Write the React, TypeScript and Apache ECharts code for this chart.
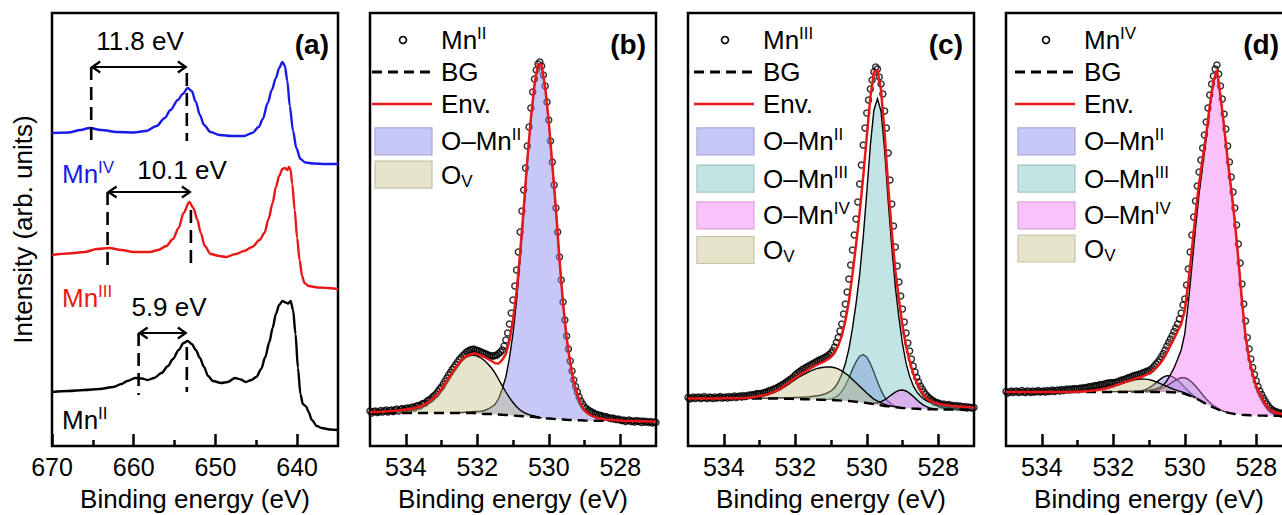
import React, { useEffect, useRef } from "react";
import * as echarts from "echarts";

const FONT = "'Liberation Sans', Arial, Helvetica, sans-serif";

// ---------------- Panel (a): Mn 2p spectra  [binding energy (eV), intensity (a.u.)] ----------------
const mnIVSpectrum = [
  [670, 313], [668, 313.5], [666.5, 316], [665.4, 318], [664, 316], [662, 314], [660, 313.5], [658.5, 315],
  [657.2, 320], [656.2, 328], [655.5, 336], [654.6, 346], [654, 352], [653.4, 358], [652.9, 355], [652.4, 344],
  [651.9, 331], [651.4, 321], [650.6, 314], [649.5, 311], [648, 310], [646.5, 310], [645.5, 313], [644.7, 319],
  [644.2, 327], [643.6, 343], [643.1, 356], [642.6, 368], [642.2, 378], [641.8, 384], [641.5, 380], [641.2, 365],
  [640.9, 340], [640.5, 315], [640.1, 298], [639.6, 287], [639, 283.5], [638, 282.5], [636.5, 282], [635, 282],
];
const mnIIISpectrum = [
  [670, 191], [668, 192.5], [666, 194], [664.5, 197], [663, 198], [661.5, 196], [660, 194], [658, 194], [657, 196],
  [656, 200], [655.2, 207], [654.5, 218], [653.9, 233], [653.2, 244], [652.7, 238], [652.2, 226], [651.8, 213],
  [651.3, 200], [650.6, 192], [649.5, 190], [648.7, 189], [647.5, 192], [646.5, 195], [645.5, 199], [644.6, 206],
  [644, 213], [643.5, 227], [643, 243], [642.6, 259], [642.2, 270], [641.8, 277], [641.5, 278], [641.2, 276],
  [641, 279], [640.8, 276], [640.6, 262], [640.3, 236], [640, 208], [639.7, 186], [639.4, 170], [639.1, 163],
  [638.6, 160], [637.5, 158.5], [635, 157],
];
const mnIISpectrum = [
  [670, 54], [668, 55], [666, 56], [664.2, 57], [662.5, 59], [661.5, 62], [660.8, 65], [659.8, 68], [659, 67.5],
  [658.3, 66], [657.5, 68], [656.6, 73], [655.8, 80], [655.2, 87], [654.5, 96], [653.9, 103], [653.4, 105],
  [652.9, 102], [652.4, 96], [651.9, 88], [651.4, 79], [650.9, 70], [650.3, 65], [649.3, 63], [648.5, 64],
  [647.6, 68], [646.9, 66.5], [646.3, 64], [645.6, 66], [645, 69], [644.4, 77], [643.9, 89], [643.4, 104],
  [643, 118], [642.6, 132], [642.2, 141], [641.8, 145], [641.4, 143.5], [641.1, 142.5], [640.8, 145], [640.5, 136],
  [640.2, 112], [639.9, 78], [639.6, 52], [639.3, 42], [638.9, 39.5], [638.6, 34], [638.2, 26], [637.6, 20],
  [637, 18], [636, 16.5], [635, 16],
];
// multiplet splitting arrows: [satellite BE, 2p1/2 BE, level]
const splitArrows = [[665.2, 653.5, 379], [663.2, 653.0, 254], [659.4, 653.5, 113]];
// dashed guides: [BE, from level, to level]
const splitGuides = [
  [665.2, 379, 301], [653.5, 373, 305], [663.2, 254, 176], [653.0, 236, 176], [659.4, 113, 51], [653.5, 99, 54],
];
const splitLabels = ["11.8 eV", "10.1 eV", "5.9 eV"];

const aTicks = [640, 650, 660, 670];
const aMinorTicks = [645, 655, 665];
const oTicks = [528, 530, 532, 534];
const oMinorTicks = [529, 531, 533];

// ---------------- O 1s fits: grid 535.0 -> 527.0 eV, step 0.1 (81 values) ----------------
const bgB = [
  33, 33, 33, 33, 33, 33, 33, 33, 33, 33,
  33, 33, 33, 33, 33, 33, 33, 33, 33, 33,
  33, 33, 33, 33, 33, 33, 33, 33, 33, 33,
  32.5, 32.2, 32, 32, 32, 31.8, 31.5, 31.2, 31, 30.8,
  30.5, 30.2, 30, 29.7, 29.5, 29.2, 29, 28.5, 28, 27.7,
  27.5, 27.2, 27, 26.7, 26.5, 26.2, 26, 26, 25.8, 25.7,
  25.5, 25.4, 25.3, 25.3, 25.2, 25.2, 25.1, 25.1, 25, 25,
  25, 25, 25, 24.9, 24.9, 24.8, 24.8, 24.7, 24.6, 24.6,
  24.5,
];
const mnIIb = [
  0, 0, 0, 0, 0, 0, 0, 0, 0, 0,
  0, 0, 0, 0, 0, 0, 0, 0, 0, 0,
  0, 0, 0, 0, 0, 0.5, 0.5, 1, 1, 1.5,
  2, 2.5, 3.5, 5, 7, 10, 16, 26, 38, 57,
  82, 115, 158, 204, 254, 297, 331, 353, 353, 331,
  297, 254, 210, 160, 116, 82, 57, 38, 26, 16,
  10, 7, 5, 3.5, 2.5, 2, 1.5, 1, 1, 0.5,
  0.5, 0, 0, 0, 0, 0, 0, 0, 0, 0,
  0,
];
const ovB = [
  1, 1, 1, 1.2, 1.5, 1.7, 2, 2.2, 2.5, 3,
  3.5, 4, 4.5, 5.5, 6.5, 8, 10, 12.5, 15.5, 19.5,
  24, 29.5, 35, 40.5, 45.5, 50, 53.5, 56, 57.5, 58,
  57.5, 56, 53.5, 50, 46, 41, 35, 29, 23, 17.5,
  13, 9, 6, 4, 2.5, 1.5, 1, 0.5, 0, 0,
  0, 0, 0, 0, 0, 0, 0, 0, 0, 0,
  0, 0, 0, 0, 0, 0, 0, 0, 0, 0,
  0, 0, 0, 0, 0, 0, 0, 0, 0, 0,
  0,
];
// measured points: 535.00 -> 527.00 eV, step 0.05 (161 values)
const dataB = [
  35, 33, 34.5, 35, 33.5, 34, 35.5, 34, 35, 36, 34, 35.5, 36, 34.5, 36, 37, 35, 36.5, 37.5, 36,
  37.5, 38, 37, 38.5, 39, 38, 40, 40.5, 40, 42, 42.5, 43, 45, 46, 47, 49, 50.5, 52, 54.5, 57,
  59, 62, 65, 68, 71, 73.5, 76.5, 79, 81.5, 84, 86.5, 88.5, 90.5, 92, 94, 95, 96, 96.5, 97, 96,
  95.5, 95, 94, 93.5, 92.5, 92, 91, 90.5, 90, 90, 90.5, 91, 92.5, 94, 96, 100, 106, 113, 122, 133,
  146, 160, 176, 194, 214, 235, 256, 278, 300, 319, 338, 354, 367, 376, 382, 384, 380, 371, 360, 344,
  326, 305, 284, 261, 238, 214, 189, 166, 144, 126, 110, 97, 85, 75, 66, 59.5, 54, 49, 45, 42,
  39, 37.5, 36, 35, 34, 33, 32, 31.5, 31, 30.5, 30, 29, 29.5, 28.5, 28, 27.5, 28, 27, 26.5, 27,
  26, 25.5, 26, 24.5, 25.5, 26, 24.5, 25, 24, 25.5, 24.5, 25, 23.5, 25, 24, 24.5, 23.5, 24.5, 23, 24,
  23.5,
];

const bgC = [
  47.5, 47.5, 47.5, 47.5, 47.5, 47.5, 47.5, 47.5, 47.5, 47.5,
  47.5, 47.5, 47.5, 47.5, 47.5, 47.5, 47.5, 47.5, 47.5, 47.5,
  47.5, 47.5, 47.5, 47.5, 47.5, 47.5, 47.4, 47.3, 47.2, 47.1,
  47, 46.9, 46.8, 46.7, 46.6, 46.5, 46.4, 46.3, 46.2, 46.1,
  46, 45.8, 45.6, 45.4, 45.2, 45, 44.6, 44.2, 43.8, 43.4,
  43, 42.4, 41.8, 41.2, 40.6, 40, 39.6, 39.2, 38.8, 38.4,
  38, 37.8, 37.6, 37.4, 37.2, 37, 36.8, 36.7, 36.6, 36.6,
  36.5, 36.5, 36.5, 36.5, 36.5, 36.5, 36.5, 36.5, 36.5, 36.5,
  36.5,
];
const mnIIc = [
  0, 0, 0, 0, 0, 0, 0, 0, 0, 0,
  0, 0, 0, 0, 0, 0, 0, 0, 0, 0,
  0, 0, 0, 0, 0, 0, 0, 0, 0, 0,
  0, 0, 0, 0, 0, 0, 0, 0, 0.2, 0.5,
  1.1, 2.5, 5, 9, 15, 23, 32, 40, 46, 48,
  46, 40, 32, 23, 15, 9, 5, 2.5, 1.1, 0.5,
  0.2, 0, 0, 0, 0, 0, 0, 0, 0, 0,
  0, 0, 0, 0, 0, 0, 0, 0, 0, 0,
  0,
];
const mnIIIc = [
  0.1, 0.1, 0.1, 0.1, 0.1, 0.1, 0.1, 0.1, 0.1, 0.1,
  0.2, 0.2, 0.2, 0.2, 0.2, 0.3, 0.3, 0.3, 0.3, 0.3,
  0.4, 0.4, 0.4, 0.5, 0.6, 0.7, 0.8, 0.9, 1, 1.2,
  1.5, 1.7, 2, 2.3, 2.7, 3.2, 3.8, 4.5, 5.5, 7,
  9, 12.5, 18, 26, 37, 52, 73, 98, 127, 165,
  210, 258, 294, 306, 294, 256, 205, 160, 120, 90,
  64, 45, 32, 23, 17, 13, 10, 8, 7, 6,
  5.5, 5, 4.5, 4, 3.6, 3.3, 3, 2.7, 2.4, 2.2,
  2,
];
const mnIVc = [
  0, 0, 0, 0, 0, 0, 0, 0, 0, 0,
  0, 0, 0, 0, 0, 0, 0, 0, 0, 0,
  0, 0, 0, 0, 0, 0, 0, 0, 0, 0,
  0, 0, 0, 0, 0, 0, 0, 0, 0, 0,
  0, 0, 0, 0, 0, 0, 0, 0, 0, 0,
  0.2, 0.5, 1.1, 2.1, 3.8, 6.1, 9.1, 12.2, 15, 17.2,
  18, 17.2, 15, 12.2, 9.1, 6.1, 3.8, 2.1, 1.1, 0.5,
  0.2, 0, 0, 0, 0, 0, 0, 0, 0, 0,
  0,
];
const ovC = [
  0, 0, 0, 0, 0, 0, 0, 0, 0, 0,
  0, 0, 0, 0, 0, 0, 0.2, 0.5, 1, 1.5,
  2, 2.7, 3.5, 4.7, 6, 7.6, 9.5, 12, 14.5, 17,
  19.5, 22, 24, 26, 28, 29.7, 31, 32, 32.5, 33,
  33, 32.5, 31.5, 29.7, 27.5, 25, 22, 19, 16, 13,
  10, 7.5, 5, 3.7, 2.5, 1.7, 1, 0.6, 0.3, 0.2,
  0, 0, 0, 0, 0, 0, 0, 0, 0, 0,
  0, 0, 0, 0, 0, 0, 0, 0, 0, 0,
  0,
];
const dataC = [
  48.5, 47, 48, 49, 47.5, 48.5, 49, 47.5, 48, 49.5, 48, 47.5, 49, 48.5, 47.5, 49, 48, 48.5, 49.5, 48,
  48.5, 49, 48, 49.5, 48.5, 49, 50, 48.5, 49.5, 50, 49, 50.5, 49.5, 50, 51, 50.5, 51.5, 51, 52, 52.5,
  52, 52.5, 53, 53.5, 54, 55, 55.5, 56, 57, 57.5, 58.5, 59.5, 60.5, 61.5, 62.5, 64, 65, 66.5, 67.5, 69,
  71, 72.5, 74, 75, 76.5, 77.5, 78.5, 79.5, 80.5, 81.5, 82.5, 83.5, 84.5, 85.5, 86.5, 87, 88, 89, 90, 91.5,
  93, 95.5, 99, 103.5, 108.5, 115, 122, 132, 142, 154, 167, 181, 196, 211, 227, 244, 262, 281, 301, 318,
  333, 346, 357, 366, 374, 379, 377, 369, 362, 352, 335, 318, 293, 266, 242, 220, 199, 180, 164, 150,
  137, 124, 113, 103, 95, 87, 80, 74, 68.5, 64, 60, 57, 54, 51.5, 49.5, 48, 46.5, 45.5, 44, 43.5,
  43, 42, 41, 42, 40.5, 41, 41.5, 40, 40.5, 39.5, 40.5, 39, 40, 39.5, 38.5, 39.5, 38, 39, 38.5, 38,
  38.5,
];

const bgD = [
  54, 54, 54, 54, 54, 54, 54, 54, 54, 54,
  54, 54, 54, 54, 54, 54, 54, 54, 54, 54,
  54, 54, 54, 54, 54, 54, 54, 54, 54, 54,
  54, 54, 54, 54, 54, 54, 54, 54, 54, 54,
  54, 54, 54, 54, 54, 54, 53.8, 53.6, 53.3, 53,
  52.2, 51, 49.5, 47.8, 46, 44, 42, 40.2, 38.5, 37,
  35.6, 34.4, 33.4, 32.6, 32, 31.5, 31.2, 31, 30.8, 30.6,
  30.5, 30.4, 30.4, 30.3, 30.3, 30.2, 30.2, 30.1, 30.1, 30,
  30,
];
const mnIId = [
  0, 0, 0, 0, 0, 0, 0, 0, 0, 0,
  0, 0, 0, 0, 0, 0, 0, 0, 0, 0,
  0, 0, 0, 0, 0, 0, 0, 0, 0, 0,
  0, 0, 0, 0, 0, 0, 0.3, 0.6, 1.25, 2.4,
  4.1, 6.5, 9.4, 12.4, 14.9, 16.3, 16.3, 14.9, 12.4, 9.4,
  6.5, 4.1, 2.4, 1.25, 0.6, 0.3, 0.1, 0, 0, 0,
  0, 0, 0, 0, 0, 0, 0, 0, 0, 0,
  0, 0, 0, 0, 0, 0, 0, 0, 0, 0,
  0,
];
const mnIIId = [
  0, 0, 0, 0, 0, 0, 0, 0, 0, 0,
  0, 0, 0, 0, 0, 0, 0, 0, 0, 0,
  0, 0, 0, 0, 0, 0, 0, 0, 0, 0,
  0, 0, 0, 0, 0, 0, 0, 0, 0.1, 0.2,
  0.45, 0.85, 1.6, 2.7, 4.2, 6.3, 8.7, 11.2, 13.5, 15.2,
  16, 15.6, 14.3, 12.2, 9.7, 7.2, 5, 3.2, 1.95, 1.1,
  0.6, 0.3, 0.15, 0, 0, 0, 0, 0, 0, 0,
  0, 0, 0, 0, 0, 0, 0, 0, 0, 0,
  0,
];
const mnIVd = [
  0, 0, 0, 0, 0, 0, 0, 0, 0, 0,
  0, 0, 0, 0, 0, 0, 0, 0, 0, 0.1,
  0.1, 0.1, 0.15, 0.15, 0.2, 0.2, 0.2, 0.25, 0.25, 0.3,
  0.35, 0.4, 0.45, 0.5, 0.6, 0.7, 0.8, 0.9, 1, 1.3,
  1.6, 2.2, 3.2, 4.4, 6.8, 11.2, 17.5, 24.5, 33.5, 43,
  60, 92, 130, 170, 206, 236, 265, 297, 324, 338,
  314, 285, 253, 224, 193, 155, 114, 79, 57, 41.5,
  29.5, 21.5, 15, 9.2, 5.6, 3.8, 2.8, 1.9, 1.5, 1.2,
  1,
];
const ovD = [
  0, 0, 0, 0, 0, 0, 0, 0, 0, 0,
  0, 0, 0, 0, 0, 0, 0, 0, 0, 0.1,
  0.2, 0.3, 0.5, 0.75, 1.1, 1.5, 2, 2.7, 3.5, 4.5,
  5.5, 6.7, 7.9, 9.1, 10.2, 11.2, 12.1, 12.7, 12.95, 12.9,
  12.4, 11.5, 10.2, 8.7, 7.1, 5.6, 4.2, 3.1, 2.1, 1.4,
  0.9, 0.6, 0.3, 0.2, 0.1, 0, 0, 0, 0, 0,
  0, 0, 0, 0, 0, 0, 0, 0, 0, 0,
  0, 0, 0, 0, 0, 0, 0, 0, 0, 0,
  0,
];
const dataD = [
  54.5, 53, 54, 55, 53.5, 54.5, 55, 53.5, 54, 55.5, 54, 53.5, 55, 54.5, 53.5, 55, 54, 54.5, 55.5, 54,
  54.5, 55, 54, 55.5, 54.5, 55, 56, 54.5, 55.5, 56, 55, 56.5, 55.5, 56, 57, 56, 57, 56.5, 57.5, 57,
  57, 57.5, 58, 57.5, 58.5, 58, 59, 59.5, 59, 60, 60.5, 60, 61, 61.5, 61, 62, 62.5, 63, 63, 63.5,
  63, 63.5, 64, 64.5, 65.5, 66, 66.5, 67, 68, 68.5, 69, 70, 70.5, 71, 71.5, 72, 72.5, 73.5, 74, 75,
  75, 76.5, 78, 80, 82, 84, 86.5, 89.5, 92.5, 96, 100, 103.5, 107, 110.5, 114.5, 118, 122, 127, 133, 141,
  147, 161, 177, 194, 211, 229, 245, 260, 274, 286, 298, 311, 324, 338, 351, 362, 370, 377, 381, 372,
  360, 347, 332, 317, 300, 284, 269, 254, 238, 221, 202, 183, 162, 142, 125, 108.5, 97, 87, 78.5, 71.5,
  65, 59.5, 55, 51.5, 48, 45, 42, 39.5, 37.5, 36, 35, 34.5, 33, 33.5, 32, 32.5, 31.5, 32, 31, 31.5,
  31,
];

// ---------------- styling / layout ----------------
const GRIDS = [
  { left: 52, top: 13, width: 286, height: 433 },
  { left: 370, top: 13, width: 286, height: 433 },
  { left: 688, top: 13, width: 286, height: 433 },
  { left: 1006, top: 13, width: 286, height: 433 },
];
const BLUE = "#1a1ae6";
const RED = "#e81818";
const COMP: any = {
  mn2: { label: "{n|O–Mn}{sup|II}", fill: "rgba(130,130,240,0.45)", legend: "#c7c7f8", border: "#a8a8da" },
  mn3: { label: "{n|O–Mn}{sup|III}", fill: "rgba(110,190,190,0.42)", legend: "#c2e4e4", border: "#a2c6c6" },
  mn4: { label: "{n|O–Mn}{sup|IV}", fill: "rgba(245,120,245,0.45)", legend: "#fac2fa", border: "#daa4da" },
  ov: { label: "{n|O}{sub|V}", fill: "rgba(195,190,130,0.42)", legend: "#e6e4ca", border: "#c6c4a6" },
};

const oPanels: any[] = [
  {
    g: 1, bg: bgB, data: dataB, comps: [["mn2", mnIIb], ["ov", ovB]], tag: "(b)", sample: "II",
    lx: 372, tx: 441, rows: [40, 72, 104, 141.3, 174.6], tagRight: 646,
  },
  {
    g: 2, bg: bgC, data: dataC, comps: [["mn2", mnIIc], ["mn3", mnIIIc], ["mn4", mnIVc], ["ov", ovC]], tag: "(c)",
    sample: "III", lx: 694, tx: 763, rows: [40, 72, 104, 141.3, 178.6, 215.4, 250], tagRight: 963,
  },
  {
    g: 3, bg: bgD, data: dataD, comps: [["mn2", mnIId], ["mn3", mnIIId], ["mn4", mnIVd], ["ov", ovD]], tag: "(d)",
    sample: "IV", lx: 1015, tx: 1084, rows: [40, 72, 104, 141.3, 178.6, 215.4, 248.5], tagRight: 1279,
  },
];

const fitE = (i: number) => +(535 - i * 0.1).toFixed(2);
const dataE = (i: number) => +(535 - i * 0.05).toFixed(2);

function rich(color: string) {
  return {
    n: { fontSize: 26, fontFamily: FONT, fill: color, color, lineHeight: 30 },
    sup: { fontSize: 17, fontFamily: FONT, fill: color, color, lineHeight: 14, verticalAlign: "top" },
    sub: { fontSize: 17, fontFamily: FONT, fill: color, color, lineHeight: 14, verticalAlign: "bottom" },
    b: { fontSize: 28, fontWeight: "bold", fontFamily: FONT, fill: color, color, lineHeight: 32 },
  };
}
function text(x: number, y: number, t: string, color = "#000", align = "left") {
  return {
    type: "text", x, y, silent: true, z: 50,
    style: {
      text: t, rich: rich(color), fill: color, fontSize: 26, fontFamily: FONT,
      align, verticalAlign: "middle", textAlign: align, textVerticalAlign: "middle",
    },
  };
}

function buildOption() {
  const grid = GRIDS.map((g) => ({
    ...g, show: true, borderColor: "#000", borderWidth: 2.5, backgroundColor: "rgba(0,0,0,0)",
    containLabel: false, outerBoundsMode: "none",
  }));
  const xAxis: any[] = [];
  GRIDS.forEach((_, g) => {
    const isA = g === 0;
    const min = isA ? 635 : 527;
    const max = isA ? 670 : 535;
    const major = isA ? aTicks : oTicks;
    const minor = isA ? aMinorTicks : oMinorTicks;
    xAxis.push({
      type: "value", gridIndex: g, min, max, inverse: true, position: "bottom",
      axisLine: { show: false, onZero: false },
      axisTick: { show: true, inside: true, length: 12, customValues: major, lineStyle: { color: "#000", width: 2.5 } },
      axisLabel: { show: true, customValues: major, margin: 8, fontSize: 25, color: "#000", fontFamily: FONT },
      splitLine: { show: false },
      name: "Binding energy (eV)", nameLocation: "middle", nameGap: 40,
      nameTextStyle: { fontSize: 26, color: "#000", fontFamily: FONT },
    });
    xAxis.push({
      type: "value", gridIndex: g, min, max, inverse: true, position: "bottom",
      axisLine: { show: false, onZero: false },
      axisTick: { show: true, inside: true, length: 6, customValues: minor, lineStyle: { color: "#000", width: 2.5 } },
      axisLabel: { show: false }, splitLine: { show: false },
    });
  });
  const yAxis = GRIDS.map((_, g) => ({
    type: "value", gridIndex: g, min: 0, max: 433, show: g === 0,
    axisLine: { show: false }, axisTick: { show: false }, axisLabel: { show: false }, splitLine: { show: false },
    name: g === 0 ? "Intensity (arb. units)" : "", nameLocation: "middle", nameGap: 16,
    nameTextStyle: { fontSize: 26, color: "#000", fontFamily: FONT },
  }));

  const series: any[] = [];
  const spectra: [number[][], string][] = [[mnIVSpectrum, BLUE], [mnIIISpectrum, RED], [mnIISpectrum, "#000"]];
  spectra.forEach(([d, c]) => {
    series.push({
      type: "line", xAxisIndex: 0, yAxisIndex: 0, data: d, symbol: "none", smooth: 0.3, smoothMonotone: "x",
      lineStyle: { color: c, width: 2.4 }, z: 3, silent: true,
    });
  });
  series.push({
    type: "custom", xAxisIndex: 0, yAxisIndex: 0, data: splitGuides, encode: { x: 0, y: [1, 2] }, z: 4, silent: true,
    renderItem: (_p: any, api: any) => {
      const a = api.coord([api.value(0), api.value(1)]);
      const b = api.coord([api.value(0), api.value(2)]);
      return {
        type: "line", shape: { x1: a[0], y1: a[1], x2: b[0], y2: b[1] },
        style: { stroke: "#000", lineWidth: 2.6, lineDash: [13, 7], fill: "none" },
      };
    },
  });
  series.push({
    type: "custom", xAxisIndex: 0, yAxisIndex: 0, data: splitArrows, encode: { x: [0, 1], y: 2 }, z: 4, silent: true,
    renderItem: (_p: any, api: any) => {
      const a = api.coord([api.value(0), api.value(2)]);
      const b = api.coord([api.value(1), api.value(2)]);
      const l = Math.min(a[0], b[0]);
      const r = Math.max(a[0], b[0]);
      const y = a[1];
      const st = { stroke: "#000", lineWidth: 2.2, fill: "none" };
      return {
        type: "group",
        children: [
          { type: "line", shape: { x1: l + 1, y1: y, x2: r - 1, y2: y }, style: st },
          { type: "polyline", shape: { points: [[l + 9, y - 5.5], [l + 1, y], [l + 9, y + 5.5]] }, style: st },
          { type: "polyline", shape: { points: [[r - 9, y - 5.5], [r - 1, y], [r - 9, y + 5.5]] }, style: st },
        ],
      };
    },
  });

  const graphic: any[] = [];
  // panel (a) annotations
  graphic.push(text(140, 41, "{n|" + splitLabels[0] + "}", "#000", "center"));
  graphic.push(text(182, 170, "{n|" + splitLabels[1] + "}", "#000", "center"));
  graphic.push(text(169, 307, "{n|" + splitLabels[2] + "}", "#000", "center"));
  graphic.push(text(62, 174, "{n|Mn}{sup|IV}", BLUE));
  graphic.push(text(62, 298, "{n|Mn}{sup|III}", RED));
  graphic.push(text(62, 420, "{n|Mn}{sup|II}", "#000"));
  graphic.push(text(329, 44, "{b|(a)}", "#000", "right"));

  oPanels.forEach((p) => {
    const xi = p.g * 2;
    const yi = p.g;
    series.push({
      type: "scatter", xAxisIndex: xi, yAxisIndex: yi, data: p.data.map((v: number, i: number) => [dataE(i), v]),
      symbol: "circle", symbolSize: 6, z: 2, silent: true,
      itemStyle: { color: "rgba(0,0,0,0)", borderColor: "#000", borderWidth: 1.5 },
    });
    const env = p.bg.map((b: number, i: number) => p.comps.reduce((s: number, c: any) => s + c[1][i], b));
    p.comps.forEach((c: any) => {
      const vals: number[] = c[1];
      let first = vals.findIndex((v) => v >= 0.3);
      let last = vals.length - 1;
      while (last > 0 && vals[last] < 0.3) last--;
      first = Math.max(0, first - 1);
      last = Math.min(vals.length - 1, last + 1);
      const fill = COMP[c[0]].fill;
      series.push({
        type: "custom", xAxisIndex: xi, yAxisIndex: yi, z: 3, silent: true, clip: true,
        data: [[fitE(first), p.bg[first]]], encode: { x: 0, y: 1 },
        renderItem: (_params: any, api: any) => {
          const top: number[][] = [];
          const base: number[][] = [];
          for (let i = first; i <= last; i++) {
            top.push(api.coord([fitE(i), p.bg[i] + vals[i]]));
            base.push(api.coord([fitE(i), p.bg[i]]));
          }
          return {
            type: "group",
            children: [
              { type: "polygon", shape: { points: top.concat(base.reverse()) }, style: { fill, stroke: "none" } },
              { type: "polyline", shape: { points: top }, style: { stroke: "#000", lineWidth: 1.4, fill: "none" } },
            ],
          };
        },
      });
    });
    series.push({
      type: "line", xAxisIndex: xi, yAxisIndex: yi, data: p.bg.map((v: number, i: number) => [fitE(i), v]),
      symbol: "none", lineStyle: { color: "#000", width: 2.4, type: [10, 6] }, z: 4, silent: true,
    });
    series.push({
      type: "line", xAxisIndex: xi, yAxisIndex: yi, data: env.map((v: number, i: number) => [fitE(i), v]),
      symbol: "none", lineStyle: { color: RED, width: 2.5 }, z: 5, silent: true,
    });

    // legend
    graphic.push(text(p.tagRight, 44, "{b|" + p.tag + "}", "#000", "right"));
    const r = p.rows;
    graphic.push({
      type: "circle", silent: true, z: 50, shape: { cx: p.lx + 31, cy: r[0], r: 3.5 },
      style: { fill: "none", stroke: "#000", lineWidth: 1.6 },
    });
    graphic.push(text(p.tx, r[0], "{n|Mn}{sup|" + p.sample + "}"));
    graphic.push({
      type: "line", silent: true, z: 50, shape: { x1: p.lx, y1: r[1], x2: p.lx + 60, y2: r[1] },
      style: { stroke: "#000", lineWidth: 3, lineDash: [10, 6] },
    });
    graphic.push(text(p.tx, r[1], "{n|BG}"));
    graphic.push({
      type: "line", silent: true, z: 50, shape: { x1: p.lx, y1: r[2], x2: p.lx + 60, y2: r[2] },
      style: { stroke: RED, lineWidth: 2.6 },
    });
    graphic.push(text(p.tx, r[2], "{n|Env.}"));
    p.comps.forEach((c: any, k: number) => {
      const cs = COMP[c[0]];
      const y = r[3 + k];
      graphic.push({
        type: "rect", silent: true, z: 50, shape: { x: p.lx + 3, y: y - 13.5, width: 57, height: 27 },
        style: { fill: cs.legend, stroke: cs.border, lineWidth: 1.2 },
      });
      graphic.push(text(p.tx, y, cs.label));
    });
  });

  return {
    animation: false,
    backgroundColor: "#fff",
    grid, xAxis, yAxis, series, graphic,
  };
}

export default function App() {
  const ref = useRef<HTMLDivElement>(null);
  useEffect(() => {
    if (!ref.current) return;
    const chart = echarts.init(ref.current, undefined, { renderer: "svg" });
    chart.setOption(buildOption() as any);
    return () => chart.dispose();
  }, []);
  return (
    <div
      ref={ref}
      style={{ position: "fixed", left: 0, top: 0, width: 1282, height: 515, background: "#fff" }}
    />
  );
}
